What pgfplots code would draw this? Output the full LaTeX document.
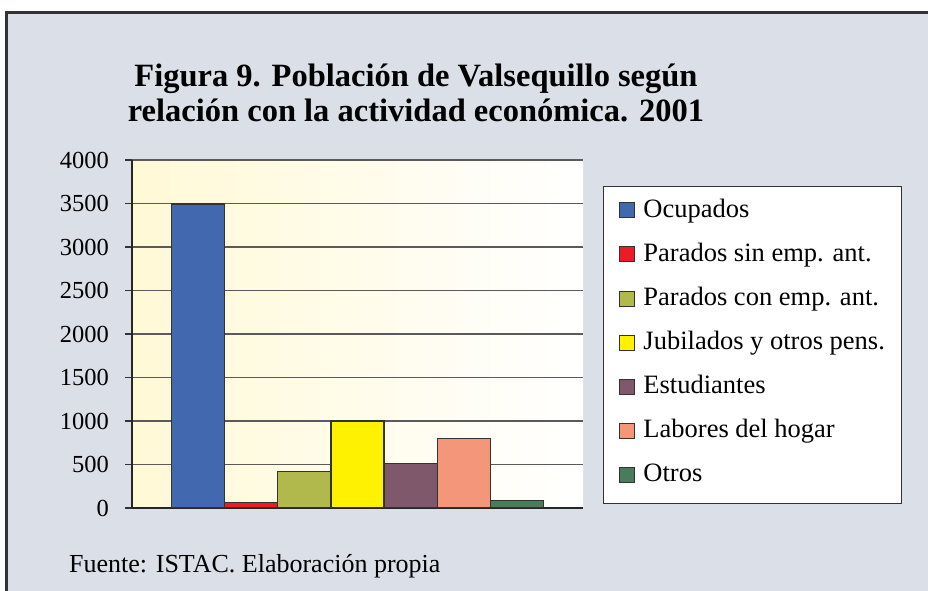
\documentclass[border=0pt]{standalone}
\usepackage{pgfplots}
\pgfplotsset{compat=1.18}
\usepackage{fontspec}
\setmainfont{Liberation Serif}
\definecolor{bgc}{RGB}{219,223,232}
\definecolor{c1}{RGB}{66,104,175}
\definecolor{c2}{RGB}{237,28,36}
\definecolor{c3}{RGB}{178,185,76}
\definecolor{c4}{RGB}{255,242,0}
\definecolor{c5}{RGB}{127,88,107}
\definecolor{c6}{RGB}{244,150,122}
\definecolor{c7}{RGB}{74,123,90}
\definecolor{grad}{RGB}{255,249,214}
\definecolor{gridc}{RGB}{90,90,90}
\begin{document}
\begin{tikzpicture}[x=1bp,y=1bp]
\useasboundingbox (0,0) rectangle (928,591);
\begin{scope}
\clip (0,0) rectangle (928,591);
\fill[white] (0,0) rectangle (928,591);
\fill[bgc, draw=black!80, line width=3bp] (6,-10) rectangle (945,578);
\end{scope}
\node[font=\fontsize{32.5bp}{36bp}\selectfont\bfseries, anchor=base] at (416,504) {Figura 9. Población de Valsequillo según};
\node[font=\fontsize{32.5bp}{36bp}\selectfont\bfseries, anchor=base] at (416,469) {relación con la actividad económica. 2001};
\node[font=\fontsize{26bp}{30bp}\selectfont, anchor=base west, inner sep=0pt] at (69,18) {Fuente: ISTAC. Elaboración propia};
\begin{axis}[
  at={(132bp,83bp)}, anchor=south west,
  scale only axis, width=451bp, height=348bp,
  xmin=-1.24, xmax=7.24, ymin=0, ymax=4000,
  ytick={0,500,...,4000},
  xtick=\empty,
  axis x line*=bottom, axis y line*=left,
  axis line style={-, black!85, line width=1.2bp},
  ymajorgrids, grid style={gridc, line width=1.3bp},
  major tick length=7bp, tick style={black!80, line width=1.2bp},
  tick align=outside,
  yticklabel style={font=\fontsize{24.5bp}{28bp}\selectfont, inner xsep=0pt, xshift=-16bp},
  /pgf/number format/assume math mode=true,
  /pgf/number format/1000 sep={},
  axis background/.style={shade, left color=grad, right color=white},
  ybar=0pt, bar width=1, bar shift=0pt,
  every axis plot/.append style={draw=black!80, line width=1.2bp},
  legend image code/.code={\draw[#1, line width=1bp, yshift=7bp] (0bp,-7.5bp) rectangle (15bp,7.5bp); \path (23bp,-7.5bp) (23bp,7.5bp);},
  legend style={at={(rel axis cs:1.0443,0.9253)}, anchor=north west,
    draw=black!80, line width=0.8bp, fill=white,
    font=\fontsize{26.5bp}{30bp}\selectfont,
    row sep=18bp, inner xsep=16bp, inner ysep=13bp,
    nodes={anchor=base west, inner sep=0pt, text height=18bp, text depth=6bp}},
  legend cell align=left,
]
\addplot[fill=c1] coordinates {(0,3495)};
\addplot[fill=c2] coordinates {(1,60)};
\addplot[fill=c3] coordinates {(2,422)};
\addplot[fill=c4] coordinates {(3,1000)};
\addplot[fill=c5] coordinates {(4,511)};
\addplot[fill=c6] coordinates {(5,800)};
\addplot[fill=c7] coordinates {(6,89)};
\legend{Ocupados, Parados sin emp. ant., Parados con emp. ant., Jubilados y otros pens., Estudiantes, Labores del hogar, Otros}
\end{axis}
\end{tikzpicture}
\end{document}
